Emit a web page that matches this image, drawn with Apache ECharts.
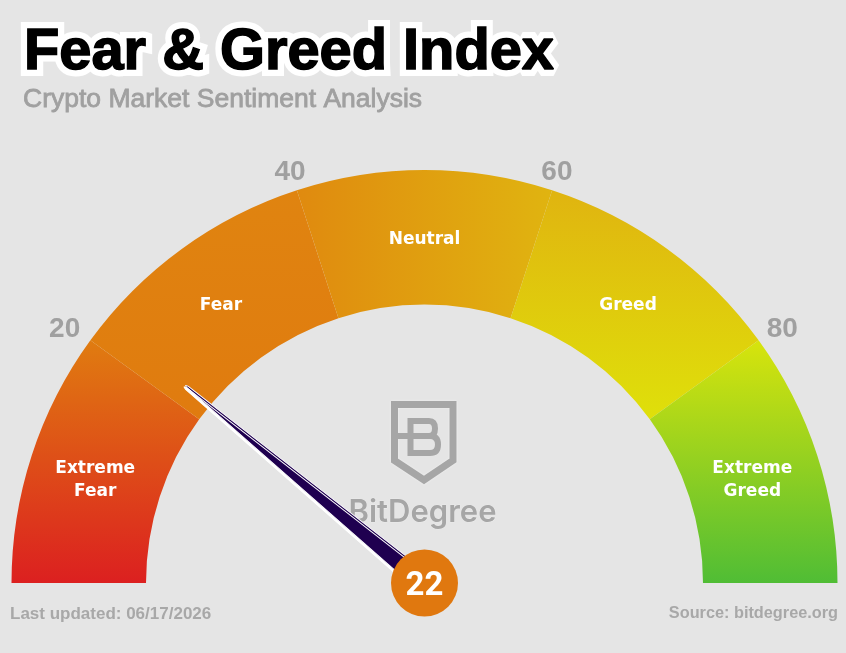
<!DOCTYPE html>
<html>
<head>
<meta charset="utf-8">
<style>html,body{margin:0;padding:0;background:#e5e5e5}#c{width:846px;height:653px}</style>
<script src="https://cdn.jsdelivr.net/npm/echarts@6/dist/echarts.min.js"></script>
</head>
<body>
<div id="c"></div>
<script>
const categories = ['Extreme\nFear', 'Fear', 'Neutral', 'Greed', 'Extreme\nGreed'];
const bandWidths = [20, 20, 20, 20, 20];
const tickLabels = {20: '20', 40: '40', 60: '60', 80: '80'};
const indexValue = 22;
const titleText = 'Fear & Greed Index';
const subtitleText = 'Crypto Market Sentiment Analysis';
const updatedText = 'Last updated: 06/17/2026';
const sourceText = 'Source: bitdegree.org';
const logoText = 'BitDegree';

const cx = 424.5, cy = 583, rOut = 413, rIn = 278.5;
const grad = (x0, y0, x1, y1, a, b) => new echarts.graphic.LinearGradient(x0, y0, x1, y1,
  [{offset: 0, color: a}, {offset: 1, color: b}], true);
const fills = [
  grad(0, 340, 0, 583, '#e07c10', '#dc2020'),
  grad(0, 190, 0, 420, '#e08410', '#e07b0f'),
  grad(297, 0, 552, 0, '#e08a0f', '#e0b410'),
  grad(0, 190, 0, 420, '#e0b410', '#dfe00a'),
  grad(0, 340, 0, 583, '#d8e40c', '#50bd35')
];
const gray = '#a6a6a6';

echarts.graphic.registerShape('logoB', echarts.graphic.extendPath(
  'M398 436H429Q435 436 435 428.5Q435 421 429 421H410.5V453H430Q438 453 438 444.5Q438 436 430 436', {}));

const labelShift = i => {
  const a = (18 + 36 * i) * Math.PI / 180;
  return [Math.cos(a) * 2.5 + (i === 4 ? -1.5 : 0), 5];
};

const tickStyle = (padding) => ({color: '#a0a0a0', fontFamily: 'Liberation Sans', fontWeight: 'bold', fontSize: 28, padding});

const chart = echarts.init(document.getElementById('c'), null, {renderer: 'canvas'});
chart.setOption({
  animation: false,
  backgroundColor: '#e5e5e5',
  title: [
    {text: titleText, left: 19, top: 17, textStyle: {fontFamily: 'Liberation Sans', fontWeight: 'bold', fontSize: 57.8, color: '#000', textBorderColor: '#fff', textBorderWidth: 14, lineHeight: 62}},
    {text: titleText, left: 19, top: 17, textStyle: {fontFamily: 'Liberation Sans', fontWeight: 'bold', fontSize: 57.8, color: '#000', textBorderColor: '#000', textBorderWidth: 1.5, lineHeight: 62}},
    {text: subtitleText, left: 18, top: 81, textStyle: {fontFamily: 'Liberation Sans', fontWeight: 'normal', fontSize: 26.5, color: '#a0a0a0', textBorderColor: '#a0a0a0', textBorderWidth: 0.8, lineHeight: 28}},
    {text: updatedText, left: 5, top: 599, textStyle: {fontFamily: 'Liberation Sans', fontWeight: 'bold', fontSize: 17, color: '#a8a8a8', lineHeight: 20}},
    {text: sourceText, right: 3, top: 599, textStyle: {fontFamily: 'Liberation Sans', fontWeight: 'bold', fontSize: 16.3, color: '#a8a8a8', lineHeight: 20}}
  ],
  graphic: [
    {type: 'polygon', z: 1, shape: {points: [[394.5, 404.5], [453, 404.5], [453, 460.5], [424, 480], [394.5, 460.5]]},
      style: {fill: 'none', stroke: gray, lineWidth: 7, lineJoin: 'miter', shadowBlur: 2, shadowColor: '#f4f4f4'}},
    {type: 'logoB', z: 1, style: {fill: 'none', stroke: gray, lineWidth: 6}},
    {type: 'text', z: 1, x: 422.5, y: 513, style: {text: logoText, fill: gray, font: '600 31px Inter', textAlign: 'center', textVerticalAlign: 'middle', stroke: '#efefef', lineWidth: 0.6}}
  ],
  series: [
    {
      type: 'pie', silent: true, z: 2,
      center: [cx, cy], radius: [rIn, rOut], startAngle: 180, endAngle: 0,
      data: categories.map((name, i) => ({name, value: bandWidths[i], itemStyle: {color: fills[i]}, label: {offset: labelShift(i)}})),
      label: {show: true, position: 'inside', formatter: '{b}', color: '#fff', fontFamily: 'DejaVu Sans', fontWeight: 'bold', fontSize: 17, lineHeight: 23},
      labelLine: {show: false}
    },
    {
      type: 'gauge', silent: true, z: 5,
      center: [cx, cy], radius: rOut, startAngle: 180, endAngle: 0,
      min: 0, max: 100, splitNumber: 5,
      axisLine: {show: false},
      splitLine: {show: false},
      axisTick: {show: false},
      axisLabel: {
        show: true, distance: -71,
        formatter: v => tickLabels[v] ? '{t' + v + '|' + tickLabels[v] + '}' : '',
        rich: {t20: tickStyle([39, 0, 0, 0]), t40: tickStyle([17, 0, 0, 18]), t60: tickStyle([17, 22, 0, 0]), t80: tickStyle([39, 2, 0, 0])}
      },
      pointer: {show: true, icon: 'path://M-0.1 1Q0 -1 0.1 1L1 100L-1 100Z', length: 310, width: 20, itemStyle: {color: '#1f0050', borderColor: '#fff', borderWidth: 1, borderJoin: 'round', shadowColor: '#fff', shadowBlur: 0, shadowOffsetX: -1.5, shadowOffsetY: 1.5}},
      anchor: {show: true, showAbove: true, size: 67, icon: 'circle', itemStyle: {color: '#e0780f', borderWidth: 0}},
      title: {show: false},
      detail: {show: false},
      data: [{value: indexValue}]
    },
    {
      type: 'gauge', silent: true, z: 6,
      center: [cx, cy], radius: rOut, startAngle: 180, endAngle: 0,
      min: 0, max: 100,
      axisLine: {show: false}, splitLine: {show: false}, axisTick: {show: false}, axisLabel: {show: false},
      pointer: {show: false}, anchor: {show: false}, title: {show: false},
      detail: {show: true, valueAnimation: false, offsetCenter: [0, 4], color: '#fff', fontFamily: 'Roboto', fontWeight: 'bold', fontSize: 33, formatter: '{value}'},
      data: [{value: indexValue}]
    }
  ]
});
</script>
</body>
</html>
